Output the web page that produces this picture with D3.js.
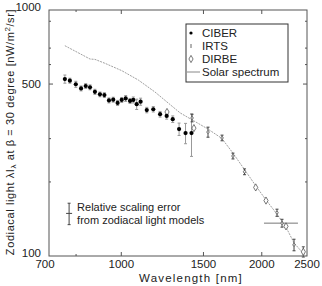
<!DOCTYPE html>
<html>
<head>
<meta charset="utf-8">
<script src="https://cdn.jsdelivr.net/npm/d3@7"></script>
<style>
body { margin: 0; background: #fff; }
text { font-family: "Liberation Sans", Arial, sans-serif; fill: #222; }
</style>
</head>
<body>
<div id="chart"></div>
<script>
//  Define width and height
var chart_width     =   322;
var chart_height    =   286;
var margin          =   { top: 10, right: 15, bottom: 30, left: 49 };

// Data
var ciber_wave  = [757, 776, 799, 820, 839, 857, 878, 900, 920, 941, 961, 982, 1002, 1022, 1044, 1061, 1079, 1100, 1134, 1171, 1211, 1251, 1289, 1330, 1373, 1414];
var ciber_val   = [524, 516, 499, 480, 491, 485, 465, 454, 451, 429, 432, 419, 431, 437, 427, 431, 414, 424, 392, 395, 377, 371, 360, 328, 316, 316];
var ciber_err   = [20, 12, 14, 11, 11, 11, 11, 10, 10, 10, 10, 10, 10, 12, 10, 12, 20, 14, 10, 10, 10, 11, 11, 19, 30, 62];

var irts_wave   = [1418, 1534, 1644, 1735, 1837, 2156, 2210, 2345];
var irts_val    = [364, 319, 302, 255, 220, 150, 136, 111];
var irts_err    = [13, 15, 8, 7, 6, 5, 5, 6];

var dirbe_wave  = [1253, 1431, 1941, 2042, 2254, 2455];
var dirbe_val   = [385, 331, 190, 168, 132, 104];
var dirbe_err   = [0, 0, 0, 0, 0, 5];
var dirbe_band  = [2022, 2391, 136];   // band width bar: from, to, level

var solar_wave  = [757, 857, 878, 923, 1002, 1088, 1181, 1336, 1534, 1641, 1735, 1857, 1941, 2042, 2156, 2254, 2345, 2470];
var solar_val   = [716, 632, 630, 607, 567, 519, 464, 382, 328, 301, 262, 218, 193, 169, 148, 131, 113, 101];

var scaling_err = [773, 149, 0.1];     // wavelength, level, relative error

var x_ticks     = [700, 1000, 1500, 2000, 2500];
var x_minor     = [800];
var y_ticks     = [100, 500, 1000];
var y_minor     = [200, 300, 600, 700, 900];

var legend_labels = ["CIBER", "IRTS", "DIRBE", "Solar spectrum"];

// Create SVG
var svg             =   d3.select("#chart")
    .append("svg")
    .attr("width", chart_width)
    .attr("height", chart_height);

var x = d3.scaleLog()
    .domain([700, 2500])
    .range([margin.left, chart_width - margin.right]);

var y = d3.scaleLog()
    .domain([100, 1000])
    .range([chart_height - margin.bottom, margin.top]);

var x0 = x.range()[0], x1 = x.range()[1];
var y0 = y.range()[0], y1 = y.range()[1];

// Frame
svg.append("rect")
    .attr("x", x0).attr("y", y1)
    .attr("width", x1 - x0).attr("height", y0 - y1)
    .attr("fill", "none")
    .attr("stroke", "#555")
    .attr("stroke-width", 1);

// Ticks (inward, on all four sides)
function ticksX(vals, len){
    vals.forEach(function(v){
        svg.append("line").attr("x1", x(v)).attr("x2", x(v))
            .attr("y1", y0).attr("y2", y0 - len).attr("stroke", "#555");
        svg.append("line").attr("x1", x(v)).attr("x2", x(v))
            .attr("y1", y1).attr("y2", y1 + len).attr("stroke", "#555");
    });
}
function ticksY(vals, len){
    vals.forEach(function(v){
        svg.append("line").attr("y1", y(v)).attr("y2", y(v))
            .attr("x1", x0).attr("x2", x0 + len).attr("stroke", "#555");
        svg.append("line").attr("y1", y(v)).attr("y2", y(v))
            .attr("x1", x1).attr("x2", x1 - len).attr("stroke", "#555");
    });
}
ticksX(x_ticks.slice(1, -1), 4);
ticksX(x_minor, 2);
ticksY([500], 4);
ticksY(y_minor, 2);

// Tick labels
svg.selectAll(".xlab")
    .data(x_ticks)
    .enter().append("text")
    .attr("x", function(d){ return x(d) + (d === 700 ? -4 : 0); })
    .attr("y", y0 + 12)
    .attr("text-anchor", "middle")
    .attr("font-size", 11.5)
    .text(function(d){ return d; });

svg.selectAll(".ylab")
    .data(y_ticks)
    .enter().append("text")
    .attr("x", x0 - 8)
    .attr("y", function(d){ return y(d) + (d === 100 ? 1 : d === 1000 ? 1 : 4); })
    .attr("text-anchor", "end")
    .attr("font-size", 11.5)
    .text(function(d){ return d; });

// Axis titles
svg.append("text")
    .attr("x", 191)
    .attr("y", 282)
    .attr("text-anchor", "middle")
    .attr("font-size", 11.5)
    .attr("letter-spacing", 1.2)
    .text("Wavelength [nm]");

var yt = svg.append("text")
    .attr("transform", "translate(14,132) rotate(-90)")
    .attr("text-anchor", "middle")
    .attr("font-size", 11)
    .attr("letter-spacing", 0.6);
yt.append("tspan").text("Zodiacal light \u03bbI");
yt.append("tspan").attr("font-size", 8).attr("dy", 2).text("\u03bb");
yt.append("tspan").attr("dy", -2).text(" at \u03b2 = 30 degree [nW/m");
yt.append("tspan").attr("font-size", 8).attr("dy", -4).text("2");
yt.append("tspan").attr("dy", 4).text("/sr]");

// Solar spectrum
var line = d3.line()
    .x(function(d){ return x(d[0]); })
    .y(function(d){ return y(d[1]); });

svg.append("path")
    .datum(d3.zip(solar_wave, solar_val))
    .attr("d", line)
    .attr("fill", "none")
    .attr("stroke", "#888")
    .attr("stroke-width", 0.8)
    .attr("stroke-dasharray", "2,1");

// Error bars
function errbars(wave, val, err, color, cap){
    var g = svg.append("g").attr("stroke", color).attr("stroke-width", 1);
    wave.forEach(function(w, i){
        if (!err[i]) return;
        var cx = x(w), lo = y(val[i] - err[i]), hi = y(val[i] + err[i]);
        g.append("line").attr("x1", cx).attr("x2", cx).attr("y1", lo).attr("y2", hi);
        g.append("line").attr("x1", cx - cap).attr("x2", cx + cap).attr("y1", lo).attr("y2", lo);
        g.append("line").attr("x1", cx - cap).attr("x2", cx + cap).attr("y1", hi).attr("y2", hi);
    });
}
errbars(ciber_wave, ciber_val, ciber_err, "#999", 1.5);
errbars(irts_wave, irts_val, irts_err, "#444", 1.5);
errbars(dirbe_wave, dirbe_val, dirbe_err, "#555", 1.5);

// DIRBE band width
svg.append("line")
    .attr("x1", x(dirbe_band[0])).attr("x2", x(dirbe_band[1]))
    .attr("y1", y(dirbe_band[2])).attr("y2", y(dirbe_band[2]))
    .attr("stroke", "#777");

// DIRBE points
var diamond = d3.symbol().type(d3.symbolDiamond).size(15);
svg.selectAll(".dirbe")
    .data(d3.zip(dirbe_wave, dirbe_val))
    .enter().append("path")
    .attr("d", diamond)
    .attr("transform", function(d){ return "translate(" + x(d[0]) + "," + y(d[1]) + ")"; })
    .attr("fill", "#fff")
    .attr("stroke", "#555")
    .attr("stroke-width", 0.8);

// IRTS markers
svg.selectAll(".irts")
    .data(d3.zip(irts_wave, irts_val))
    .enter().append("circle")
    .attr("cx", function(d){ return x(d[0]); })
    .attr("cy", function(d){ return y(d[1]); })
    .attr("r", 1.2)
    .attr("fill", "#fff")
    .attr("stroke", "#444")
    .attr("stroke-width", 0.7);

// CIBER points
svg.selectAll(".ciber")
    .data(d3.zip(ciber_wave, ciber_val))
    .enter().append("circle")
    .attr("cx", function(d){ return x(d[0]); })
    .attr("cy", function(d){ return y(d[1]); })
    .attr("r", 2.1)
    .attr("fill", "#000");

// Relative scaling error note
var sx = x(scaling_err[0]), sy = y(scaling_err[1]);
var slo = y(scaling_err[1] * (1 - scaling_err[2])), shi = y(scaling_err[1] * (1 + scaling_err[2]));
var sg = svg.append("g").attr("stroke", "#444");
sg.append("line").attr("x1", sx).attr("x2", sx).attr("y1", slo).attr("y2", shi);
sg.append("line").attr("x1", sx - 1.5).attr("x2", sx + 1.5).attr("y1", slo).attr("y2", slo);
sg.append("line").attr("x1", sx - 1.5).attr("x2", sx + 1.5).attr("y1", shi).attr("y2", shi);
sg.append("line").attr("x1", sx - 3).attr("x2", sx + 3).attr("y1", sy).attr("y2", sy);

svg.append("text").attr("x", sx + 8).attr("y", sy - 2).attr("font-size", 11).text("Relative scaling error");
svg.append("text").attr("x", sx + 8).attr("y", sy + 11).attr("font-size", 11).text("from zodiacal light models");

// Legend
var lg = svg.append("g").attr("class", "legend");
lg.append("rect")
    .attr("x", 186).attr("y", 24)
    .attr("width", 102).attr("height", 58)
    .attr("fill", "#fff")
    .attr("stroke", "#333");

var ly = [33, 46, 59, 72];
lg.selectAll("text")
    .data(legend_labels)
    .enter().append("text")
    .attr("x", 202)
    .attr("y", function(d, i){ return ly[i] + 4; })
    .attr("font-size", 11.5)
    .text(function(d){ return d; });

lg.append("circle").attr("cx", 191).attr("cy", ly[0]).attr("r", 1.6).attr("fill", "#000");
lg.append("line").attr("x1", 191).attr("x2", 191).attr("y1", ly[1] - 2).attr("y2", ly[1] + 2).attr("stroke", "#666");
lg.append("path").attr("d", diamond).attr("transform", "translate(191," + ly[2] + ")")
    .attr("fill", "#fff").attr("stroke", "#555").attr("stroke-width", 0.8);
lg.append("line").attr("x1", 187).attr("x2", 200).attr("y1", ly[3]).attr("y2", ly[3]).attr("stroke", "#888");
</script>
</body>
</html>
